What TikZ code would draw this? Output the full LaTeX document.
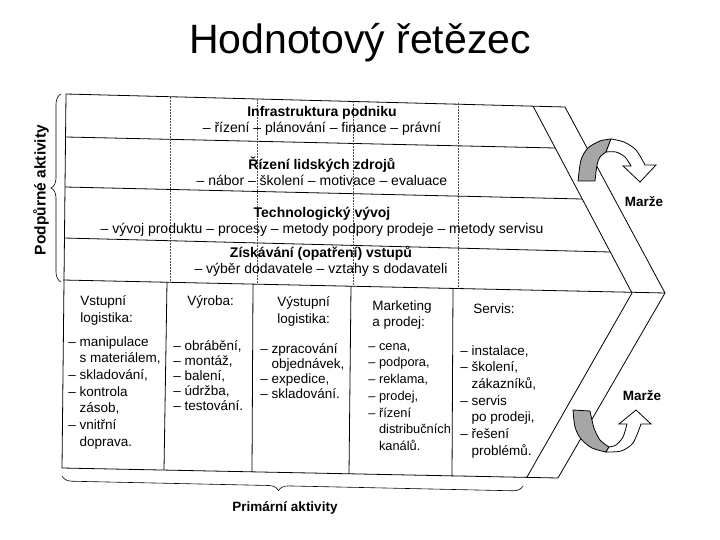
\documentclass[tikz,border=0pt]{standalone}
\usepackage{fontspec}
\setmainfont{Liberation Sans}
\usetikzlibrary{decorations.pathreplacing}
\newcommand{\odsaz}{\hphantom{– }}

\begin{document}
\begin{tikzpicture}[x=1pt,y=-1pt,line width=0.8pt,
  radek/.style={align=center,font=\fontsize{14}{16}\selectfont},
  sloupec/.style={anchor=north west,align=left,inner sep=0pt,font=\fontsize{13.5}{16.7}\selectfont},
  tecky/.style={densely dotted,line width=0.5pt,black!70},
  marze/.style={font=\bfseries\fontsize{13.5}{16}\selectfont}]
  \useasboundingbox (0,0) rectangle (720,540);
  \node (nadpis) at (360,43) {\fontsize{41}{42}\selectfont Hodnotový řetězec};

  \draw (66,94) -- (565,107) -- (665,293) -- (558,478) -- (62,468) -- cycle;
  \draw (533,106) -- (632,293) -- (527,477);
  \draw (66,137) -- (555,148);
  \draw (65,187) -- (582,199);
  \draw (64,238) -- (610,252);
  \draw (63,280) -- (665,293);
  \draw (167,282) -- (164,470);
  \draw (253,284) -- (252,472);
  \draw (351,286) -- (349,474);
  \draw (453,288) -- (452,476);
  \draw[tecky] (170,97) -- (170,282);
  \draw[tecky] (257,99) -- (257,284);
  \draw[tecky] (353,101) -- (353,286);
  \draw[tecky] (458,103) -- (458,288);

  \draw[decorate,decoration={brace,amplitude=10pt},line width=0.6pt] (61,282) -- (61,94);
  \node (podpurne) at (41,190) [rotate=90,font=\bfseries\fontsize{15.5}{16}\selectfont] {Podpůrné aktivity};
  \draw[decorate,decoration={brace,amplitude=10pt,aspect=0.53},line width=0.6pt] (523,486) -- (62,476);
  \node (primarni) at (285,508) [font=\bfseries\fontsize{13.5}{16}\selectfont] {Primární aktivity};

  \node (infra) at (322,121) [radek] {\textbf{Infrastruktura podniku}\\– řízení – plánování – finance – právní};
  \node (lidi) at (322,171) [radek] {\textbf{Řízení lidských zdrojů}\\– nábor – školení – motivace – evaluace};
  \node (tech) at (322,222) [radek] {\textbf{Technologický vývoj}\\– vývoj produktu – procesy – metody podpory prodeje – metody servisu};
  \node (nakup) at (321,261) [radek] {\textbf{Získávání (opatření) vstupů}\\– výběr dodavatele – vztahy s dodavateli};

  \node (vstupH) at (80,295) [sloupec] {Vstupní\\logistika:};
  \node (vstup) at (68,336) [sloupec] {– manipulace\\\odsaz s materiálem,\\– skladování,\\– kontrola\\\odsaz zásob,\\– vnitřní\\\odsaz doprava.};
  \node (vyrobaH) at (187,295) [sloupec] {Výroba:};
  \node (vyroba) at (173,340) [sloupec,font=\fontsize{13.5}{15}\selectfont] {– obrábění,\\– montáž,\\– balení,\\– údržba,\\– testování.};
  \node (vystupH) at (277,296) [sloupec] {Výstupní\\logistika:};
  \node (vystup) at (260,343) [sloupec,font=\fontsize{13.5}{15}\selectfont] {– zpracování\\\odsaz objednávek,\\– expedice,\\– skladování.};
  \node (marketH) at (372,300) [sloupec] {Marketing\\a prodej:};
  \node (market) at (368,343) [sloupec,font=\fontsize{12.8}{16.7}\selectfont] {– cena,\\– podpora,\\– reklama,\\– prodej,\\– řízení\\\odsaz distribučních\\\odsaz kanálů.};
  \node (servisH) at (473,303) [sloupec] {Servis:};
  \node (servis) at (460,345) [sloupec] {– instalace,\\– školení,\\\odsaz zákazníků,\\– servis\\\odsaz po prodeji,\\– řešení\\\odsaz problémů.};

  \filldraw[fill=black!35] (578,181) -- plot[smooth] coordinates {(578,181) (581,160) (588,148) (600,141) (611,139)} -- (606,152) -- plot[smooth] coordinates {(606,152) (600,157) (597,165) (595,181)} -- cycle;
  \filldraw[fill=white] (611,139) -- plot[smooth] coordinates {(611,139) (624,142) (636,150) (645,165)} -- (656,165) -- (640,182) -- (623,166) -- (631,166) -- plot[smooth] coordinates {(631,166) (625,157) (616,152) (606,152)} -- cycle;
  \node (marze1) at (644,202) [marze] {Marže};

  \filldraw[fill=black!35] (573,410) -- plot[smooth] coordinates {(573,410) (575,427) (581,439) (592,448) (606,452)} -- (609,447) -- plot[smooth] coordinates {(609,447) (600,440) (594,428) (590,411)} -- cycle;
  \filldraw[fill=white] (606,452) -- plot[smooth] coordinates {(606,452) (621,451) (633,443) (641,424)} -- (651,424) -- (636,410) -- (619,424) -- (627,424) -- plot[smooth] coordinates {(627,424) (623,437) (616,445) (609,447)} -- cycle;
  \node (marze2) at (642,396) [marze] {Marže};
\end{tikzpicture}
\end{document}
